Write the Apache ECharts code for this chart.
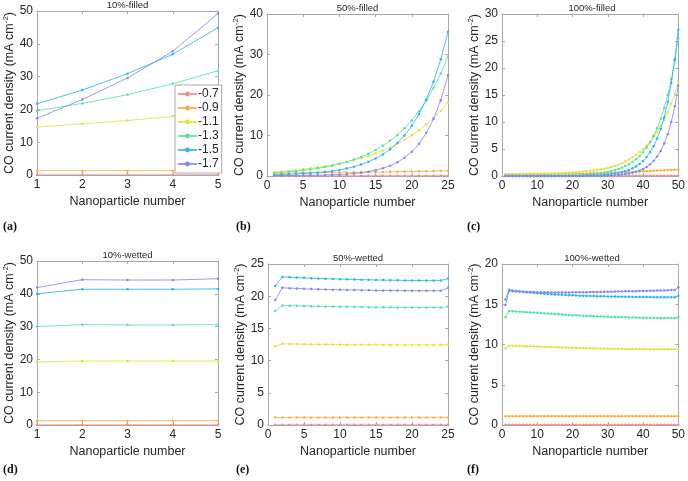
<!DOCTYPE html>
<html><head><meta charset="utf-8">
<script src="https://cdn.jsdelivr.net/npm/echarts@6/dist/echarts.min.js"></script>
<style>html,body{margin:0;padding:0;background:#fff}#c{width:688px;height:481px}</style>
</head><body><div id="c"></div>
<script>
const levels = ['-0.7','-0.9','-1.1','-1.3','-1.5','-1.7'];
const colors = ['#f28b8b','#f5b03c','#e3e044','#58e2a2','#2eb4f0','#8488f2'];

const X5 = [1,2,3,4,5];
const X25 = [1,2,3,4,5,6,7,8,9,10,11,12,13,14,15,16,17,18,19,20,21,22,23,24,25];
const X50 = [1,2,3,4,5,6,7,8,9,10,11,12,13,14,15,16,17,18,19,20,21,22,23,24,25,26,27,28,29,30,31,32,33,34,35,36,37,38,39,40,41,42,43,44,45,46,47,48,49,50];

// (a) 10%-filled
const a_07 = [0.05,0.05,0.05,0.05,0.05];
const a_09 = [1.3,1.3,1.3,1.3,1.3];
const a_11 = [14.6,15.6,16.6,17.9,19.7];
const a_13 = [19.6,21.8,24.5,27.8,31.8];
const a_15 = [21.7,25.9,30.9,36.8,44.9];
const a_17 = [17.3,23.0,29.6,37.7,49.2];

// (b) 50%-filled
const b_07 = [0.02,0.02,0.02,0.03,0.03,0.03,0.03,0.03,0.04,0.04,0.04,0.04,0.05,0.05,0.05,0.05,0.06,0.06,0.06,0.07,0.07,0.07,0.08,0.08,0.09];
const b_09 = [0.70,0.72,0.74,0.76,0.78,0.80,0.82,0.84,0.86,0.88,0.90,0.92,0.94,0.96,0.98,1.00,1.03,1.06,1.09,1.12,1.15,1.18,1.21,1.25,1.29];
const b_11 = [0.95,1.10,1.26,1.45,1.66,1.90,2.14,2.42,2.73,3.07,3.48,3.92,4.41,4.96,5.58,6.27,7.06,7.94,8.93,10.05,11.3,12.7,14.3,16.1,18.1];
const b_13 = [0.75,0.88,1.02,1.19,1.39,1.62,1.89,2.20,2.56,2.98,3.47,4.05,4.71,5.49,6.40,7.45,8.68,10.1,11.8,13.7,16.0,18.6,21.7,25.3,29.5];
const b_15 = [0.32,0.38,0.45,0.53,0.62,0.73,0.86,1.03,1.24,1.50,1.85,2.29,2.83,3.49,4.31,5.32,6.58,8.12,10.0,12.4,15.3,18.9,23.3,28.8,35.6];
const b_17 = [0.11,0.12,0.13,0.14,0.16,0.18,0.21,0.25,0.29,0.35,0.46,0.61,0.81,1.08,1.44,1.91,2.54,3.38,4.50,5.98,7.95,10.6,14.1,18.7,24.9];

// (c) 100%-filled
const c_07 = [0.01,0.01,0.01,0.01,0.01,0.01,0.01,0.01,0.01,0.01,0.01,0.01,0.01,0.01,0.01,0.01,0.01,0.01,0.01,0.01,0.01,0.01,0.01,0.01,0.02,0.02,0.02,0.02,0.02,0.02,0.02,0.02,0.02,0.02,0.02,0.03,0.03,0.03,0.03,0.03,0.03,0.03,0.04,0.04,0.04,0.04,0.04,0.05,0.05,0.05];
const c_09 = [0.30,0.30,0.31,0.31,0.32,0.32,0.33,0.33,0.34,0.34,0.35,0.36,0.36,0.37,0.38,0.39,0.40,0.41,0.42,0.43,0.44,0.45,0.47,0.48,0.50,0.51,0.53,0.55,0.57,0.59,0.61,0.63,0.66,0.68,0.71,0.74,0.77,0.80,0.84,0.88,0.91,0.94,0.97,1.00,1.03,1.06,1.09,1.12,1.15,1.19];
const c_11 = [0.35,0.35,0.36,0.37,0.37,0.38,0.39,0.40,0.41,0.42,0.43,0.45,0.46,0.48,0.50,0.52,0.55,0.58,0.61,0.65,0.70,0.75,0.81,0.88,0.95,1.03,1.12,1.23,1.36,1.50,1.68,1.88,2.10,2.38,2.70,3.05,3.45,3.92,4.44,5.00,5.65,6.38,7.21,8.15,9.25,10.4,11.8,13.4,15.2,17.4];
const c_13 = [0.03,0.03,0.04,0.04,0.04,0.05,0.05,0.05,0.06,0.06,0.07,0.07,0.08,0.08,0.09,0.10,0.10,0.11,0.12,0.13,0.16,0.19,0.23,0.27,0.32,0.38,0.45,0.54,0.64,0.76,0.91,1.08,1.29,1.53,1.83,2.18,2.60,3.10,3.69,4.40,5.24,6.25,7.45,8.88,10.6,12.6,15.0,17.9,21.4,25.5];
const c_15 = [0.01,0.01,0.01,0.01,0.01,0.01,0.01,0.01,0.01,0.01,0.01,0.01,0.01,0.01,0.02,0.02,0.02,0.02,0.03,0.03,0.04,0.05,0.06,0.08,0.10,0.12,0.15,0.18,0.23,0.29,0.36,0.45,0.57,0.72,0.90,1.13,1.42,1.78,2.23,2.80,3.51,4.41,5.53,6.94,8.71,10.9,13.7,17.2,21.6,27.1];
const c_17 = [0.00,0.00,0.00,0.00,0.00,0.00,0.00,0.00,0.00,0.00,0.00,0.00,0.01,0.01,0.01,0.01,0.01,0.01,0.01,0.01,0.02,0.02,0.03,0.03,0.04,0.05,0.06,0.07,0.08,0.10,0.13,0.17,0.22,0.28,0.36,0.47,0.60,0.78,1.00,1.30,1.68,2.17,2.80,3.60,4.65,6.00,7.75,10.0,12.9,16.7];

// (d) 10%-wetted
const d_07 = [0.05,0.05,0.05,0.05,0.05];
const d_09 = [1.3,1.3,1.3,1.3,1.3];
const d_11 = [19.2,19.5,19.5,19.5,19.5];
const d_13 = [30.0,30.6,30.5,30.5,30.6];
const d_15 = [40.0,41.4,41.4,41.4,41.5];
const d_17 = [41.9,44.3,44.2,44.2,44.6];

// (e) 50%-wetted
const e_07 = [0.02,0.02,0.02,0.02,0.02,0.02,0.02,0.02,0.02,0.02,0.02,0.02,0.02,0.02,0.02,0.02,0.02,0.02,0.02,0.02,0.02,0.02,0.02,0.02,0.02];
const e_09 = [1.15,1.15,1.15,1.15,1.15,1.15,1.15,1.15,1.15,1.15,1.15,1.15,1.15,1.15,1.15,1.15,1.15,1.15,1.15,1.15,1.15,1.15,1.15,1.15,1.15];
const e_11 = [12.2,12.6,12.58,12.56,12.54,12.52,12.51,12.5,12.49,12.48,12.47,12.46,12.46,12.45,12.45,12.44,12.44,12.43,12.43,12.43,12.42,12.42,12.42,12.42,12.5];
const e_13 = [17.7,18.55,18.52,18.5,18.47,18.45,18.43,18.41,18.39,18.37,18.35,18.33,18.32,18.3,18.29,18.28,18.27,18.26,18.25,18.25,18.24,18.24,18.24,18.24,18.4];
const e_15 = [21.6,23.0,22.95,22.9,22.85,22.8,22.75,22.7,22.68,22.65,22.62,22.6,22.57,22.55,22.52,22.5,22.48,22.47,22.45,22.44,22.43,22.42,22.42,22.42,22.75];
const e_17 = [19.4,21.3,21.25,21.2,21.15,21.1,21.08,21.05,21.02,21.0,20.98,20.96,20.94,20.92,20.9,20.89,20.88,20.87,20.86,20.85,20.85,20.85,20.85,20.85,21.3];

// (f) 100%-wetted
const f_07 = [0.02,0.02,0.02,0.02,0.02,0.02,0.02,0.02,0.02,0.02,0.02,0.02,0.02,0.02,0.02,0.02,0.02,0.02,0.02,0.02,0.02,0.02,0.02,0.02,0.02,0.02,0.02,0.02,0.02,0.02,0.02,0.02,0.02,0.02,0.02,0.02,0.02,0.02,0.02,0.02,0.02,0.02,0.02,0.02,0.02,0.02,0.02,0.02,0.02,0.02];
const f_09 = [1.1,1.1,1.1,1.1,1.1,1.1,1.1,1.1,1.1,1.1,1.1,1.1,1.1,1.1,1.1,1.1,1.1,1.1,1.1,1.1,1.1,1.1,1.1,1.1,1.1,1.1,1.1,1.1,1.1,1.1,1.1,1.1,1.1,1.1,1.1,1.1,1.1,1.1,1.1,1.1,1.1,1.1,1.1,1.1,1.1,1.1,1.1,1.1,1.1,1.1];
const f_11 = [9.5,9.85,9.84,9.83,9.82,9.8,9.79,9.77,9.76,9.74,9.72,9.71,9.69,9.68,9.66,9.65,9.63,9.62,9.6,9.59,9.58,9.57,9.55,9.54,9.53,9.52,9.51,9.5,9.49,9.48,9.47,9.46,9.46,9.45,9.44,9.44,9.43,9.43,9.42,9.42,9.41,9.41,9.41,9.4,9.4,9.4,9.4,9.4,9.4,9.42];
const f_13 = [13.4,14.15,14.13,14.1,14.08,14.05,14.02,13.99,13.96,13.93,13.9,13.87,13.84,13.81,13.78,13.75,13.72,13.69,13.67,13.64,13.62,13.59,13.57,13.55,13.53,13.51,13.49,13.47,13.45,13.44,13.42,13.41,13.39,13.38,13.37,13.36,13.35,13.34,13.33,13.32,13.31,13.31,13.3,13.3,13.3,13.29,13.29,13.29,13.29,13.38];
const f_15 = [15.6,16.8,16.72,16.66,16.6,16.55,16.5,16.46,16.42,16.38,16.34,16.31,16.28,16.25,16.22,16.2,16.17,16.15,16.13,16.11,16.09,16.07,16.06,16.04,16.03,16.02,16.0,15.99,15.98,15.97,15.96,15.95,15.94,15.93,15.93,15.92,15.91,15.91,15.9,15.9,15.89,15.89,15.88,15.88,15.88,15.87,15.87,15.87,15.87,16.05];
const f_17 = [14.9,16.65,16.62,16.59,16.57,16.55,16.53,16.52,16.51,16.5,16.49,16.48,16.48,16.47,16.47,16.47,16.47,16.47,16.47,16.48,16.48,16.49,16.49,16.5,16.51,16.52,16.52,16.53,16.54,16.55,16.56,16.57,16.58,16.59,16.6,16.61,16.62,16.63,16.64,16.65,16.66,16.67,16.68,16.7,16.71,16.72,16.74,16.76,16.78,17.1];

const panels = [
  {title:'10%-filled', tag:'(a)', xs:X5, ys:[a_07,a_09,a_11,a_13,a_15,a_17], g:[37,11,181,164], x:[1,5,1], y:[0,50,10], tagPos:[3,221]},
  {title:'50%-filled', tag:'(b)', xs:X25, ys:[b_07,b_09,b_11,b_13,b_15,b_17], g:[267,14,181,162], x:[0,25,5], y:[0,40,10], tagPos:[236,221]},
  {title:'100%-filled', tag:'(c)', xs:X50, ys:[c_07,c_09,c_11,c_13,c_15,c_17], g:[502,14,180,162], x:[0,50,10], y:[0,30,5], tagPos:[467,221]},
  {title:'10%-wetted', tag:'(d)', xs:X5, ys:[d_07,d_09,d_11,d_13,d_15,d_17], g:[37,261,181,164], x:[1,5,1], y:[0,50,10], tagPos:[3,464]},
  {title:'50%-wetted', tag:'(e)', xs:X25, ys:[e_07,e_09,e_11,e_13,e_15,e_17], g:[268,264,180,161], x:[0,25,5], y:[0,25,5], tagPos:[236,464]},
  {title:'100%-wetted', tag:'(f)', xs:X50, ys:[f_07,f_09,f_11,f_13,f_15,f_17], g:[502,264,180,161], x:[0,50,10], y:[0,20,5], tagPos:[467,464]}
];

const FONT = 'Liberation Sans, Arial, sans-serif';
const AX = '#a8a8a8';
const TXT = '#262626';

const grid=[], xAxis=[], yAxis=[], series=[], title=[], graphic=[];
panels.forEach((p,i)=>{
  grid.push({left:p.g[0], top:p.g[1], width:p.g[2], height:p.g[3], containLabel:false});
  const common = {type:'value', gridIndex:i, splitLine:{show:false},
    axisLine:{show:true, onZero:false, lineStyle:{color:AX, width:1}},
    axisTick:{show:true, inside:true, length:3, lineStyle:{color:AX}}};
  xAxis.push(Object.assign({}, common, {position:'bottom', min:p.x[0], max:p.x[1], interval:p.x[2],
    axisLabel:{color:TXT, fontSize:12, fontFamily:FONT, margin:4},
    name:'Nanoparticle number', nameLocation:'middle', nameGap:20,
    nameTextStyle:{color:TXT, fontSize:12.5, fontFamily:FONT}}));
  xAxis.push(Object.assign({}, common, {position:'top', min:p.x[0], max:p.x[1], interval:p.x[2], axisLabel:{show:false}}));
  yAxis.push(Object.assign({}, common, {position:'left', min:p.y[0], max:p.y[1], interval:p.y[2],
    axisLabel:{color:TXT, fontSize:12, fontFamily:FONT, margin:4},
    name:'CO current density (mA cm{sup|-2})', nameLocation:'middle', nameGap:16,
    nameTextStyle:{color:TXT, fontSize:12.5, fontFamily:FONT,
      rich:{sup:{fontSize:8, fontFamily:FONT, color:TXT, padding:[0,0,7,0]}}}}));
  yAxis.push(Object.assign({}, common, {position:'right', min:p.y[0], max:p.y[1], interval:p.y[2], axisLabel:{show:false}}));
  title.push({text:p.title, left:p.g[0]+p.g[2]/2, top:p.g[1]-11, textAlign:'center', padding:0,
    textStyle:{fontSize:9.5, fontWeight:'normal', color:TXT, fontFamily:FONT}});
  graphic.push({type:'text', left:p.tagPos[0], top:p.tagPos[1],
    style:{text:p.tag, font:'bold 12px "Liberation Serif", "DejaVu Serif", serif', fill:'#111'}});
  levels.forEach((lv,k)=>{
    series.push({type:'line', name:lv, xAxisIndex:2*i, yAxisIndex:2*i,
      data:p.xs.map((x,j)=>[x, p.ys[k][j]]),
      symbol:'circle', symbolSize:2.5, showSymbol:true,
      lineStyle:{width:1, color:colors[k], opacity:0.85},
      itemStyle:{color:colors[k]}, animation:false, z:2+k});
  });
});

const chart = echarts.init(document.getElementById('c'), null, {renderer:'canvas'});
chart.setOption({
  animation:false,
  backgroundColor:'#fff',
  grid, xAxis, yAxis, series, title, graphic,
  legend:{data:levels, orient:'vertical', left:175, top:85, itemWidth:19, itemHeight:6, itemGap:0,
    padding:[2,3,2,2], backgroundColor:'#fff', borderColor:'#a8a8a8', borderWidth:1, borderRadius:0,
    textStyle:{fontSize:12, color:TXT, fontFamily:FONT, lineHeight:14, padding:[0,0,0,-4]}, z:10}
});
</script></body></html>
